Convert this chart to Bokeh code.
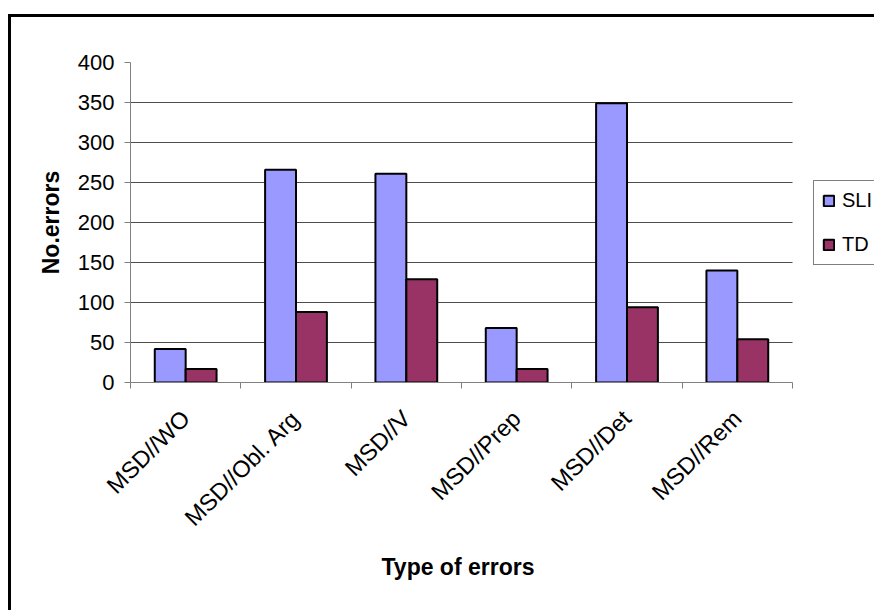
import math

from bokeh.embed import file_html
from bokeh.models import (FixedTicker, InlineStyleSheet, Legend, LegendItem,
                          Range1d, Title)
from bokeh.plotting import figure
from bokeh.resources import INLINE

# Error counts per error type, for the SLI and TD groups
categories = ["MSD//WO", "MSD//Obl. Arg", "MSD//V", "MSD//Prep", "MSD//Det", "MSD//Rem"]
sli_errors = [42, 266, 261, 68, 349, 140]
td_errors = [17, 88, 129, 17, 94, 54]
y_ticks = [0, 50, 100, 150, 200, 250, 300, 350, 400]

FONT = "Liberation Sans"
SLI_COLOR = "#9999FF"
TD_COLOR = "#993366"
BAR_W = 0.28

# plot area: categories occupy x = 130..792 px; the frame runs on to the page
# edge so the legend beside it is not clipped
PLOT_LEFT, CAT_RIGHT, PAGE_W = 130, 792, 874

n = len(categories)
centers = [i + 0.5 for i in range(n)]
x_sli = [c - BAR_W / 2 for c in centers]
x_td = [c + BAR_W / 2 for c in centers]
x_end = n * (PAGE_W - PLOT_LEFT) / (CAT_RIGHT - PLOT_LEFT)

# black frame around the chart area (left and top edges are inside the page)
chart_frame = InlineStyleSheet(css="""
:host::after {
  content: "";
  position: absolute;
  left: 8px; top: 14px; right: -20px; bottom: -20px;
  border-left: 3px solid #000;
  border-top: 3px solid #000;
  pointer-events: none;
  z-index: 10;
}
""")

p = figure(
    width=PAGE_W, height=610,
    output_backend="svg", toolbar_location=None,
    x_range=Range1d(0, x_end), y_range=Range1d(0, 400),
    min_border_left=PLOT_LEFT, min_border_right=0,
    min_border_top=62, min_border_bottom=228,
    outline_line_color=None,
    background_fill_color="white", border_fill_color="white",
    stylesheets=[chart_frame],
)

# horizontal gridlines spanning the category area only
grid_ys = y_ticks[1:-1]
p.segment(x0=[0] * len(grid_ys), x1=[n] * len(grid_ys), y0=grid_ys, y1=grid_ys,
          line_color="#4d4d4d", line_width=1)

r_sli = p.vbar(x=x_sli, top=sli_errors, width=BAR_W, bottom=0,
               fill_color=SLI_COLOR, line_color="black", line_width=2)
r_td = p.vbar(x=x_td, top=td_errors, width=BAR_W, bottom=0,
              fill_color=TD_COLOR, line_color="black", line_width=2)

# y axis
p.yaxis.ticker = FixedTicker(ticks=y_ticks)
p.yaxis.axis_label = "No.errors"
p.yaxis.axis_label_text_font = FONT
p.yaxis.axis_label_text_font_style = "bold"
p.yaxis.axis_label_text_font_size = "23px"
p.yaxis.axis_label_text_color = "black"
p.yaxis.axis_label_standoff = 11
p.yaxis.major_label_text_font = FONT
p.yaxis.major_label_text_font_size = "22px"
p.yaxis.major_label_text_color = "black"
p.yaxis.major_label_standoff = 10
p.yaxis.axis_line_color = "#808080"
p.yaxis.major_tick_line_color = "#808080"
p.yaxis.major_tick_out = 6
p.yaxis.major_tick_in = 0
p.yaxis.minor_tick_line_color = None

# x axis: labels centred on each category, ticks on the category boundaries
p.xaxis.bounds = (0, n)
p.xaxis.ticker = FixedTicker(ticks=centers, minor_ticks=list(range(n + 1)))
p.xaxis.major_label_overrides = {c: lab for c, lab in zip(centers, categories)}
p.xaxis.major_label_orientation = math.pi / 4
p.xaxis.major_label_text_font = FONT
p.xaxis.major_label_text_font_size = "23.5px"
p.xaxis.major_label_text_color = "black"
p.xaxis.major_label_standoff = 26
p.xaxis.major_tick_out = 0
p.xaxis.major_tick_in = 0
p.xaxis.minor_tick_out = 6
p.xaxis.minor_tick_in = 0
p.xaxis.minor_tick_line_color = "#808080"
p.xaxis.axis_line_color = "#808080"

# x axis title, centred under the category area
x_title = Title(text="Type of errors", align="left", offset=251, standoff=18,
                text_font=FONT, text_font_style="bold", text_font_size="23px",
                text_color="black")
p.add_layout(x_title, "below")

p.grid.visible = False

legend = Legend(
    items=[LegendItem(label="SLI", renderers=[r_sli]),
           LegendItem(label="TD", renderers=[r_td])],
    location=(683, 117),
    margin=0, padding=8, spacing=21,
    glyph_width=13, glyph_height=13, label_height=20, label_width=40,
    label_standoff=7,
    label_text_font=FONT, label_text_font_size="20px", label_text_color="black",
    border_line_color="black", border_line_width=1,
    background_fill_color="white", background_fill_alpha=1,
)
p.add_layout(legend, "center")

open("out.html", "w").write(file_html(p, INLINE))
